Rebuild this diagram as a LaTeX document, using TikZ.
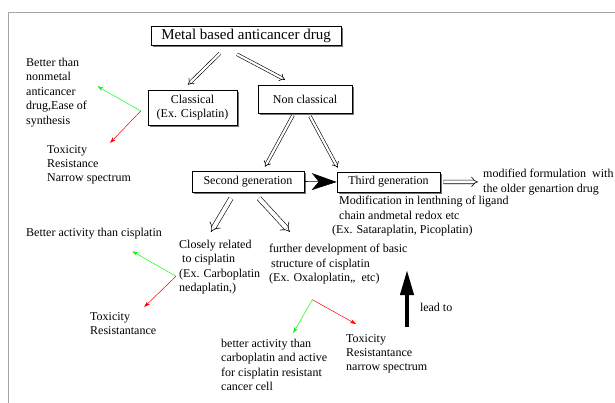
\documentclass[tikz,border=0pt]{standalone}
\usepackage{fontspec}
\setmainfont{Liberation Serif}
\usepackage{tikz}
\usetikzlibrary{positioning,arrows.meta,calc,shadows}

\begin{document}
\begin{tikzpicture}[
    x=1pt, y=-1pt,
    font=\rmfamily\fontsize{12}{14.4}\selectfont,
    drugbox/.style={draw, fill=white, line width=0.6pt, inner sep=2pt, align=center,
        drop shadow={shadow xshift=1.8pt, shadow yshift=-1.8pt, fill=black!55, opacity=1}},
    note/.style={inner sep=0pt, align=left, anchor=north west},
    hollow/.style={draw, double, double distance=2.2pt, line width=0.6pt, -{Implies[scale=1.3]}},
    widehollow/.style={hollow, double distance=4pt},
    goodarrow/.style={draw=green, line width=0.5pt, -{Stealth[length=6pt, width=4pt]}},
    badarrow/.style={draw=red, line width=0.5pt, -{Stealth[length=6pt, width=4pt]}},
]
\useasboundingbox (0,0) rectangle (615,403);
\draw[gray!70, line width=0.8pt] (8,403) |- (615,12);

\node[drugbox, minimum width=190pt, minimum height=19pt, font=\rmfamily\fontsize{15}{18}\selectfont] (metal) at (246,35.5) {Metal based anticancer drug};
\node[drugbox, minimum width=89pt, minimum height=35pt] (classical) at (192.5,107.5) {Classical\\(Ex. Cisplatin)};
\node[drugbox, minimum width=94pt, minimum height=28pt] (nonclass) at (305,99) {Non classical};
\node[drugbox, minimum width=112pt, minimum height=21pt] (second) at (248,181.5) {Second generation};
\node[drugbox, minimum width=103pt, minimum height=20pt] (third) at (388.5,182) {Third generation};

\node[note] (pros1) at (26,58) {Better than\\nonmetal\\anticancer\\drug,Ease of\\synthesis};
\node[note] (cons1) at (47,145) {Toxicity\\Resistance\\Narrow spectrum};
\node[note, anchor=west] (pros2) at (26,234) {Better activity than cisplatin};
\node[note] (cons2) at (90,312) {Toxicity\\Resistantance};
\node[note] (closely) at (179,240) {Closely related\\\hspace*{3pt}to cisplatin\\(Ex. Carboplatin\\nedaplatin,)};
\node[note] (further) at (269,244) {further development of basic\\\hspace*{2pt}structure of cisplatin\\(Ex. Oxaloplatin,,\ \ etc)};
\node[note] (pros3) at (221,339) {better activity than\\carboplatin and active\\for cisplatin resistant\\cancer cell};
\node[note] (cons3) at (346,334) {Toxicity\\Resistantance\\narrow spectrum};
\node[note] (modif) at (339,196) {Modification in lenthning of ligand\\chain andmetal redox etc\\\hspace*{-7pt}(Ex. Sataraplatin, Picoplatin)};
\node[note] (formul) at (483,169) {modified formulation\ \ with\\the older genartion drug};

% generations
\draw[hollow] ([xshift=-26pt,yshift=-8pt]metal.south) -- ([xshift=-4.5pt,yshift=5pt]classical.north);
\draw[hollow] ([xshift=-9pt,yshift=-9pt]metal.south) -- ([xshift=-20pt,yshift=5pt]nonclass.north);
\draw[hollow] ([xshift=-12pt,yshift=-2pt]nonclass.south) -- ([xshift=17pt,yshift=4pt]second.north);
\draw[hollow] ([xshift=5pt,yshift=-3pt]nonclass.south) -- ([xshift=1pt,yshift=4pt]third.north west);
\draw[line width=0.6pt, -{Stealth[length=25pt, width=17pt, inset=7pt]}] (second.east) -- (third.west);
\draw[hollow, double distance=3pt, shorten <=3pt] (third.east) -- ([xshift=-5pt]formul.west);
\draw[widehollow] ([xshift=-17pt,yshift=-6pt]second.south) -- ([xshift=32pt,yshift=8pt]closely.north west);
\draw[widehollow] ([xshift=11pt,yshift=-6pt]second.south) -- ([xshift=21pt,yshift=12pt]further.north west);

% pros and cons
\coordinate (fork1) at ([xshift=-7pt,yshift=-3.5pt]classical.west);
\draw[goodarrow] (fork1) -- ([xshift=10.4pt,yshift=6.2pt]pros1.east);
\draw[badarrow] (fork1) -- ([xshift=21pt,yshift=2pt]cons1.north);
\coordinate (fork2) at ([xshift=-3pt,yshift=-9pt]closely.west);
\draw[goodarrow] (fork2) -- ([xshift=-29.7pt,yshift=-11.6pt]pros2.south east);
\draw[badarrow] (fork2) -- ([xshift=21pt,yshift=5pt]cons2.north);
\coordinate (fork3) at ([xshift=-26pt,yshift=-15.5pt]further.south);
\draw[goodarrow] (fork3) -- ([xshift=19pt,yshift=6pt]pros3.north);
\draw[badarrow] (fork3) -- ([xshift=10pt,yshift=10pt]cons3.north west);

\coordinate (leadfoot) at (407,327);
\coordinate (leadhead) at (407,270);
\draw[line width=4pt, -{Triangle[length=25pt, width=13pt]}] (leadfoot) -- node[pos=0.35, right=11pt, inner sep=0pt] (leadto) {lead to} (leadhead);
\end{tikzpicture}
\end{document}
